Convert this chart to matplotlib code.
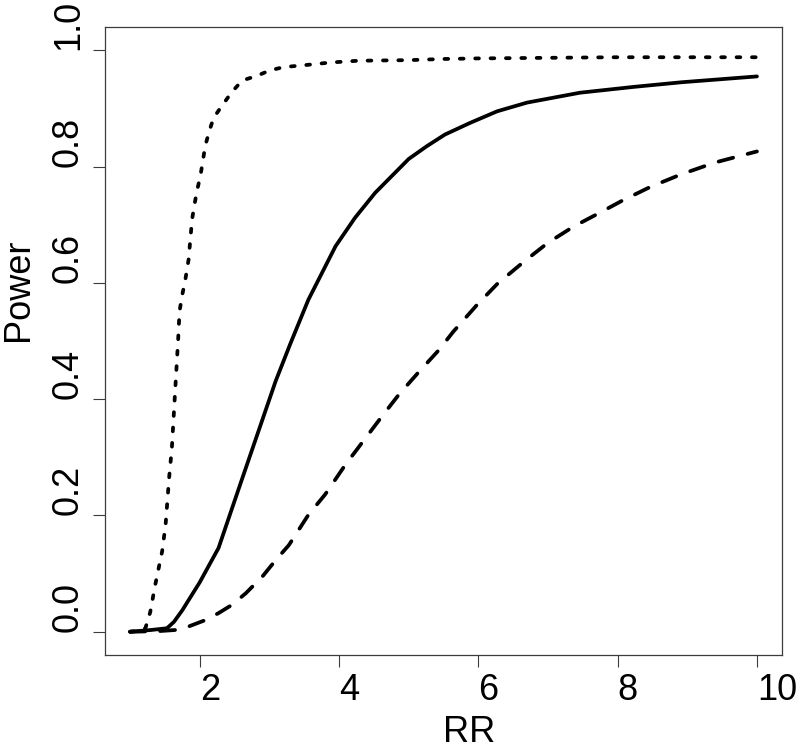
import matplotlib
matplotlib.use("Agg")
import matplotlib.pyplot as plt

# ---- data ----
rr_dotted = [1.0, 1.15, 1.22, 1.29, 1.36, 1.46, 1.51, 1.56, 1.60, 1.65, 1.69, 1.71,
             1.75, 1.79, 1.84, 1.89, 1.93, 1.96, 2.01, 2.08, 2.14, 2.20, 2.34, 2.46,
             2.61, 2.82, 3.0, 3.2, 3.56, 3.88, 4.28, 5.0, 5.5, 6.0, 7.0, 8.0, 9.0, 10.0]
power_dotted = [0.0, 0.002, 0.006, 0.034, 0.08, 0.138, 0.184, 0.264, 0.316, 0.42, 0.502, 0.551,
                0.58, 0.603, 0.64, 0.709, 0.738, 0.758, 0.784, 0.836, 0.862, 0.884, 0.908, 0.928,
                0.948, 0.956, 0.965, 0.971, 0.975, 0.979, 0.982, 0.983, 0.985, 0.986, 0.987, 0.988, 0.988, 0.988]

rr_solid = [1.0, 1.3, 1.53, 1.63, 1.75, 2.0, 2.27, 2.58, 3.09, 3.30, 3.56, 3.95, 4.23,
            4.52, 5.0, 5.26, 5.52, 5.88, 6.27, 6.70, 7.46, 8.23, 8.92, 10.0]
power_solid = [0.0, 0.003, 0.006, 0.017, 0.037, 0.085, 0.144, 0.253, 0.431, 0.495, 0.571, 0.663, 0.712,
               0.755, 0.813, 0.835, 0.855, 0.875, 0.895, 0.910, 0.927, 0.937, 0.945, 0.955]

rr_dashed = [1.0, 1.4, 1.65, 1.84, 2.08, 2.27, 2.46, 2.66, 2.9, 3.09, 3.28, 3.56, 3.8, 4.09,
             4.33, 4.62, 4.86, 5.14, 5.43, 5.64, 5.98, 6.27, 6.65, 7.0, 7.37, 7.75, 8.06,
             8.47, 8.92, 9.4, 10.0]
power_dashed = [0.0, 0.001, 0.003, 0.009, 0.02, 0.032, 0.046, 0.066, 0.095, 0.123, 0.149, 0.201, 0.236, 0.287,
                0.325, 0.371, 0.408, 0.446, 0.484, 0.516, 0.562, 0.598, 0.636, 0.669, 0.697, 0.721, 0.741,
                0.765, 0.787, 0.807, 0.826]

x_ticks = [2, 4, 6, 8, 10]
y_ticks = [0.0, 0.2, 0.4, 0.6, 0.8, 1.0]
y_tick_labels = ["0.0", "0.2", "0.4", "0.6", "0.8", "1.0"]

# ---- figure ----
W, H = 798, 750
fig = plt.figure(figsize=(W / 100, H / 100), dpi=100)
ax = fig.add_axes([105 / W, 1 - 655 / H, (782 - 105) / W, (655 - 27) / H])

plt.rcParams['font.family'] = ['Liberation Sans', 'DejaVu Sans']
FAM = ['Liberation Sans', 'DejaVu Sans']
FS = 26
axis_col = '#3c3c3c'
lw = 2.7

ax.plot(rr_solid, power_solid, color='black', lw=lw, solid_capstyle='round', solid_joinstyle='round')
ax.plot(rr_dashed, power_dashed, color='black', lw=lw, linestyle=(0, (4, 4)),
        dash_capstyle='round', dash_joinstyle='round')
ax.plot(rr_dotted, power_dotted, color='black', lw=lw, linestyle=(0, (1.0, 3.1)),
        dash_capstyle='round', dash_joinstyle='round')

ax.set_xlim(0.64, 10.36)
ax.set_ylim(-0.04, 1.04)

for s in ax.spines.values():
    s.set_color(axis_col)
    s.set_linewidth(0.9)

ax.set_xticks(x_ticks)
ax.set_xticklabels([str(t) for t in x_ticks], fontsize=FS, family=FAM)
ax.set_yticks(y_ticks)
ax.set_yticklabels(y_tick_labels, fontsize=FS, family=FAM)

ax.tick_params(axis='x', length=8.6, width=0.8, color=axis_col, pad=23.8)
ax.tick_params(axis='y', length=8.6, width=0.8, color=axis_col, pad=10.8)

for t in ax.get_xticklabels():
    t.set_ha('left')
    t.set_va('baseline')
for t in ax.get_yticklabels():
    t.set_rotation(90)
    t.set_rotation_mode('anchor')
    t.set_ha('left')
    t.set_va('baseline')

fig.text(443.5 / W, 8 / H, 'RR', fontsize=FS, ha='left', va='baseline', family=FAM)
fig.text(28.3 / W, 1 - 341 / H, 'Power', fontsize=FS, rotation=90, rotation_mode='anchor',
         ha='left', va='baseline', family=FAM)

fig.savefig('out.png', dpi=100)
